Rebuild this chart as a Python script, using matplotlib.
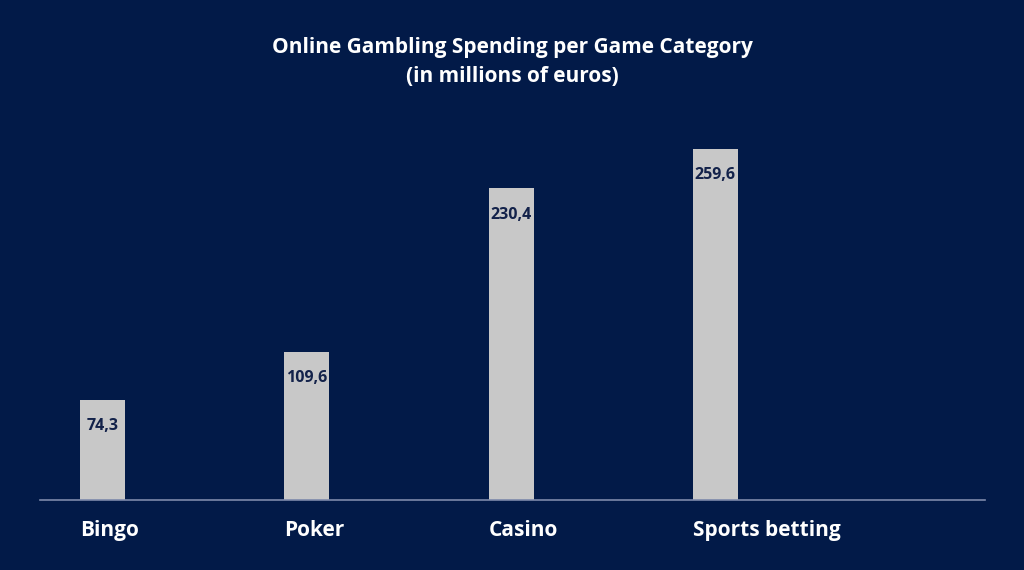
import matplotlib
matplotlib.use("Agg")
import matplotlib.pyplot as plt

categories = ["Bingo", "Poker", "Casino", "Sports betting"]
values = [74.3, 109.6, 230.4, 259.6]
value_labels = ["74,3", "109,6", "230,4", "259,6"]
title = "Online Gambling Spending per Game Category\n(in millions of euros)"

BG = "#021a48"
BAR = "#c8c8c8"
LABEL_DARK = "#13224a"
AXIS = "#7d89aa"
FONT = "Open Sans"

fig = plt.figure(figsize=(10.24, 5.70), dpi=100, facecolor=BG)
ax = fig.add_axes([40/1024, 70/570, 945/1024, 360/570], facecolor=BG)

x = list(range(len(categories)))
bar_w = 45/204.3
ax.bar(x, values, width=bar_w, color=BAR, zorder=2)
ax.set_xlim(-62.5/204.3, 882.5/204.3)
ax.set_ylim(0, 360/1.3526)

for xi, v, lab in zip(x, values, value_labels):
    ax.annotate(lab, (xi, v), xytext=(0, -19), textcoords="offset points",
                ha="center", va="center", fontsize=11.5, fontweight="bold",
                color=LABEL_DARK, family=FONT, zorder=3)
    ax.annotate(categories[xi], (xi - bar_w/2, 0), xytext=(0, -22), textcoords="offset points",
                ha="left", va="center", fontsize=15, fontweight="bold",
                color="white", family=FONT)

for s in ["top", "right", "left"]:
    ax.spines[s].set_visible(False)
ax.spines["bottom"].set_color(AXIS)
ax.spines["bottom"].set_linewidth(1.2)
ax.set_xticks([])
ax.set_yticks([])

fig.text(512/1024, 1 - 62/570, title, ha="center", va="center", fontsize=15,
         fontweight="bold", color="white", family=FONT, linespacing=1.49)

fig.savefig("out.png", dpi=100, facecolor=BG)
